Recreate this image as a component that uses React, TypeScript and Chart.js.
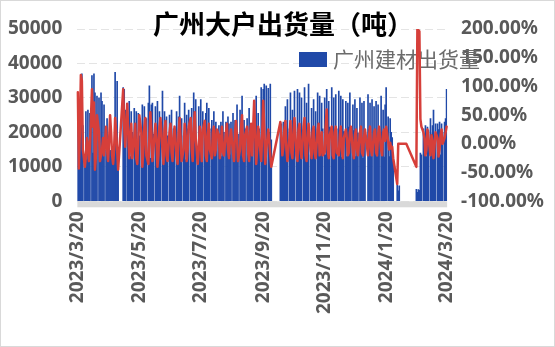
import React, { useEffect, useRef } from "react";
import { Chart, registerables } from "chart.js";

Chart.register(...registerables);

const TITLE = "广州大户出货量（吨）";
const BAR_LABEL = "广州建材出货量";
const LINE_LABEL = "环比";

// categories: daily from 2023/3/20 to 2024/3/20
const startDate = { y: 2023, m: 3, d: 20 };
const dayCount = 367;
const tickLabels = ["2023/3/20", "2023/5/20", "2023/7/20", "2023/9/20", "2023/11/20", "2024/1/20", "2024/3/20"];
const leftTicks = [0, 10000, 20000, 30000, 40000, 50000];
const rightTicks = [-1, -0.5, 0, 0.5, 1, 1.5, 2];

// one row per week (Mon..Sun)
const shipments: (number | null)[] = [
  26000, 11000, 25000, 36500, 37000, 22000, null,
  10500, 26000, 12000, 26500, 11500, 25500, null,
  36500, 14000, 37000, 31500, 13000, 30500, null,
  30000, 14500, 31500, 29000, 14000, 28000, null,
  15000, 24000, 14500, 15500, 14800, 14500, 15000,
  14800, 15200, 37400, 14600, 34800, 14200, null,
  null, null, null, 33000, 32500, 26500, null,
  24000, 19000, 29000, 13000, 26000, 20000, null,
  27000, 18500, 26000, 12500, 25500, 19000, null,
  19500, 28000, 12000, 27500, 21000, 24000, null,
  28500, 33500, 12500, 28000, 28500, 19500, null,
  27500, 20000, 29000, 12500, 26000, 21000, null,
  32000, 12500, 26000, 20500, 24500, 19000, null,
  25000, 19500, 26500, 11800, 21000, 20000, null,
  26000, 12000, 24500, 30500, 20000, 24000, null,
  19000, 28500, 12000, 25000, 21000, 26500, null,
  20000, 27000, 13500, 31500, 21000, 29500, null,
  13500, 27500, 21000, 29500, 20000, 26000, null,
  20500, 25500, 28500, 13000, 27000, 21000, null,
  23500, 13500, 26000, 20000, 23000, 19500, null,
  22000, 19500, 23000, 13000, 26000, 20000, null,
  23000, 20500, 24500, 22500, 13500, 23000, null,
  25500, 13500, 23500, 21000, 28000, 19500, null,
  26500, 20000, 30500, 13200, 23500, 21000, null,
  24000, 13500, 27000, 21000, 22500, 19800, null,
  28500, 20500, 30500, 14000, 25500, 21000, null,
  33000, 21000, 32500, 34000, 14000, 33500, null,
  32800, 20000, 34000, 17800, null, null, null,
  null, null, null, null, null, 23000, 22500,
  13500, 23000, 22000, 27500, 20500, 29500, null,
  21000, 31500, 14000, 26500, 20000, 32000, null,
  14000, 32500, 21500, 31500, 20000, 30000, null,
  20800, 33000, 13500, 28500, 21000, 34000, null,
  13500, 27000, 21000, 29500, 20800, 26000, null,
  31500, 20500, 30500, 13500, 28500, 21000, null,
  30000, 13500, 32500, 20800, 29000, 21500, null,
  33000, 20000, 30000, 13500, 31000, 21000, null,
  32000, 20500, 30500, 12800, 29500, 20200, null,
  29000, 13000, 28500, 21500, 31500, 20200, null,
  28000, 20500, 29500, 13000, 27000, 19800, null,
  30000, 20000, 28500, 12500, 29000, 20500, null,
  null, 31000, 20800, 28500, 13000, 29500, null,
  27500, 20500, 29000, 13000, 28000, 19500, null,
  30500, 20000, 26500, 12800, 28000, 33000, null,
  24500, 13000, 24000, 20000, 18500, 12000, null,
  null, null, 4800, 3000, 4500, null, null,
  null, null, null, null, null, null, null,
  null, null, null, null, null, null, null,
  3500, 2600, 3400, 3200, 14000, 13500, null,
  21000, 19500, 22000, 13000, 21500, 20500, null,
  24000, 19500, 22000, 26500, 14000, 22500, null,
  22500, 20800, 23000, 13500, 22500, 20000, null,
  23000, 24000, 32500,
];

const changePct: (number | null)[] = [
  0.9, -0.43, 0.2, 1.2, 1.1, -0.1, null,
  -0.4, -0.2, 0.1, 0.0, -0.3, -0.05, null,
  0.95, 0.3, 0.72, -0.45, -0.2, 0.5, null,
  0.2, -0.3, -0.2, -0.1, 0.1, -0.2, null,
  0.3, -0.1, -0.3, 0.05, 0.5, 0.2, -0.2,
  -0.35, -0.1, 0.45, 0.2, -0.1, -0.45, null,
  null, null, null, 0.95, 0.3, -0.05, null,
  0.7, 0.2, -0.25, 0.1, 0.35, -0.25, null,
  0.1, 0.35, -0.25, -0.35, 0.05, 0.5, null,
  0.2, -0.4, -0.1, 0.3, 0.45, -0.2, null,
  -0.35, 0.1, 0.55, 0.2, -0.3, -0.1, null,
  0.35, 0.1, -0.4, -0.2, 0.3, 0.45, null,
  -0.1, -0.35, 0.25, 0.4, -0.2, -0.3, null,
  0.2, 0.35, -0.15, -0.3, 0.1, 0.3, null,
  -0.2, -0.35, 0.2, 0.45, 0.1, -0.3, null,
  -0.1, 0.35, 0.15, -0.3, -0.1, 0.3, null,
  0.45, -0.1, -0.3, 0.2, 0.55, 0.1, null,
  -0.35, -0.1, 0.3, 0.05, -0.3, 0.25, null,
  0.4, -0.2, -0.3, 0.15, 0.35, -0.1, null,
  -0.25, 0.2, 0.3, -0.2, -0.1, 0.25, null,
  0.15, -0.25, 0.0, 0.3, -0.15, -0.2, null,
  0.2, 0.35, -0.1, -0.25, 0.1, 0.25, null,
  -0.15, -0.3, 0.2, 0.4, 0.1, -0.3, null,
  -0.1, 0.3, 0.5, -0.2, -0.3, 0.15, null,
  0.3, -0.15, -0.3, 0.2, 0.35, -0.2, null,
  0.75, 0.2, -0.35, -0.1, 0.3, 0.1, null,
  -0.3, 0.2, 0.75, 0.3, -0.35, -0.1, null,
  0.25, 0.05, -0.2, -0.4, null, null, null,
  null, null, null, null, null, 0.38, 0.1,
  -0.2, -0.05, 0.25, 0.4, -0.1, -0.3, null,
  0.1, 0.4, -0.15, -0.25, 0.2, 0.45, null,
  -0.2, -0.3, 0.25, 0.35, -0.1, -0.25, null,
  0.3, 0.45, -0.2, -0.3, 0.1, 0.35, null,
  -0.1, -0.25, 0.2, 0.3, -0.15, -0.25, null,
  0.25, 0.35, -0.2, -0.1, 0.2, -0.2, null,
  -0.15, 0.3, 0.6, -0.1, -0.25, 0.15, null,
  0.3, -0.2, -0.25, 0.2, 0.3, -0.15, null,
  -0.2, 0.15, 0.3, -0.1, -0.25, 0.1, null,
  0.25, 0.1, -0.2, -0.15, 0.2, 0.3, null,
  -0.15, -0.25, 0.15, 0.25, -0.1, -0.2, null,
  0.2, 0.3, -0.15, -0.2, 0.1, 0.25, null,
  null, -0.2, 0.15, 0.3, -0.1, -0.2, null,
  0.2, 0.25, -0.15, -0.2, 0.15, 0.3, null,
  -0.1, -0.2, 0.2, 0.25, 0.05, 0.3, null,
  0.05, -0.1, 0.02, -0.08, -0.05, -0.25, null,
  null, null, -0.7, 0.0, 0.0, null, null,
  null, null, null, null, 0.0, null, null,
  null, null, null, null, null, null, null,
  -0.4, 2.0, 1.98, 1.96, 0.43, 0.3, null,
  0.2, 0.1, -0.2, -0.1, 0.25, 0.1, null,
  -0.2, 0.15, 0.05, -0.25, -0.05, 0.2, null,
  0.1, -0.22, -0.1, 0.15, 0.25, 0.0, null,
  0.1, 0.2, 0.3,
];

function makeDates(): string[] {
  const out: string[] = [];
  const base = Date.UTC(startDate.y, startDate.m - 1, startDate.d);
  for (let i = 0; i < dayCount; i++) {
    const t = new Date(base + i * 86400000);
    out.push(`${t.getUTCFullYear()}/${t.getUTCMonth() + 1}/${t.getUTCDate()}`);
  }
  return out;
}

const BLUE = "#2049A8";
const RED = "#D63F3A";
const AXIS_TEXT = "#595959";

const decorPlugin = {
  id: "decor",
  beforeDatasetsDraw(chart: any) {
    const { ctx, chartArea } = chart;
    ctx.save();
    // axis strip
    ctx.fillStyle = "#d9d9d9";
    ctx.fillRect(chartArea.left, chartArea.bottom, chartArea.right - chartArea.left, 6);
    // title
    ctx.fillStyle = "#000000";
    ctx.font = 'bold 26px "Noto Sans CJK SC"';
    ctx.textAlign = "center";
    ctx.textBaseline = "middle";
    ctx.fillText(TITLE, 282, 23);
    // legend
    ctx.fillStyle = BLUE;
    ctx.fillRect(298, 51, 28, 15);
    ctx.fillStyle = "#6b6b6b";
    ctx.font = '21px "Noto Sans CJK SC"';
    ctx.textAlign = "left";
    ctx.fillText(BAR_LABEL, 332, 58);
    ctx.restore();
  },
};

export default function App() {
  const ref = useRef<HTMLCanvasElement>(null);
  useEffect(() => {
    const labels = makeDates();
    const chart = new Chart(ref.current as HTMLCanvasElement, {
      type: "bar",
      data: {
        labels,
        datasets: [
          {
            type: "line",
            label: LINE_LABEL,
            data: changePct,
            yAxisID: "y1",
            borderColor: RED,
            borderWidth: 2.5,
            pointRadius: 0,
            tension: 0,
            spanGaps: true,
            borderJoinStyle: "round",
            borderCapStyle: "round",
            order: 0,
          } as any,
          {
            type: "bar",
            label: BAR_LABEL,
            data: shipments,
            yAxisID: "y",
            backgroundColor: BLUE,
            borderWidth: 0,
            barPercentage: 1,
            categoryPercentage: 1,
            order: 1,
          } as any,
        ],
      },
      options: {
        animation: false,
        responsive: false,
        devicePixelRatio: 1,
        layout: { padding: { left: 0, right: 4, top: 28, bottom: 22 } },
        plugins: {
          legend: { display: false },
          title: { display: false },
          tooltip: { enabled: false },
        },
        scales: {
          x: {
            type: "category",
            grid: { display: false, drawTicks: false },
            border: { display: false },
            ticks: {
              autoSkip: false,
              maxRotation: 90,
              minRotation: 90,
              padding: 10,
              color: AXIS_TEXT,
              font: { family: "Noto Sans", weight: "bold", size: 19 },
              callback: function (this: any, value: any) {
                const l = this.getLabelForValue(value);
                return tickLabels.includes(l) ? l : "";
              },
            },
          },
          y: {
            position: "left",
            min: leftTicks[0],
            max: leftTicks[leftTicks.length - 1],
            afterBuildTicks: (scale: any) => {
              scale.ticks = leftTicks.map((v) => ({ value: v }));
            },
            grid: { color: "#e4e4e4", tickColor: "transparent", drawTicks: true, tickLength: 8 },
            border: { display: false, dash: [8, 4] },
            ticks: {
              padding: 7,
              color: AXIS_TEXT,
              font: { family: "Noto Sans", weight: "bold", size: 19 },
              callback: (v: any) => String(v),
            },
          },
          y1: {
            position: "right",
            min: rightTicks[0],
            max: rightTicks[rightTicks.length - 1],
            afterBuildTicks: (scale: any) => {
              scale.ticks = rightTicks.map((v) => ({ value: v }));
            },
            grid: { display: false, drawTicks: true, tickLength: 8 },
            border: { display: false },
            ticks: {
              padding: 6,
              color: AXIS_TEXT,
              font: { family: "Noto Sans", weight: "bold", size: 19 },
              callback: (v: any) => (Number(v) * 100).toFixed(2) + "%",
            },
          },
        },
      } as any,
      plugins: [decorPlugin],
    });
    return () => chart.destroy();
  }, []);
  return (
    <div
      style={{
        position: "absolute",
        left: 0,
        top: 0,
        width: 555,
        height: 347,
        boxSizing: "border-box",
        border: "1px solid #d9d9d9",
        background: "#ffffff",
      }}
    >
      <canvas ref={ref} width={553} height={345} style={{ display: "block", width: 553, height: 345 }} />
    </div>
  );
}
